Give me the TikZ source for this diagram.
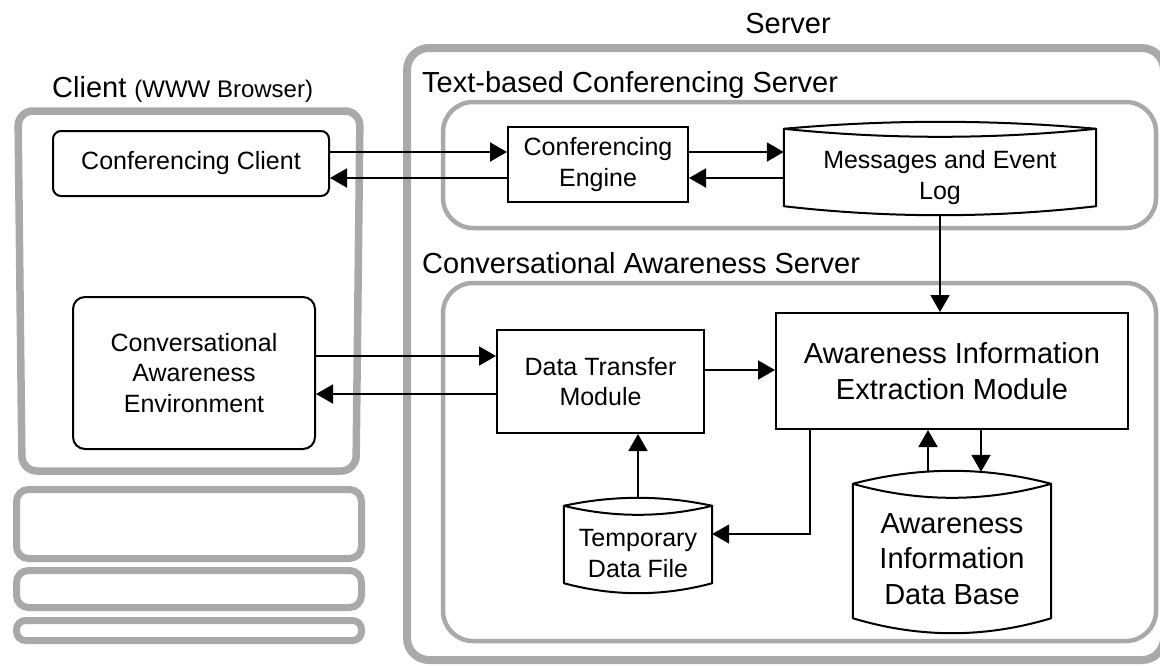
\documentclass[tikz,border=0pt]{standalone}
\usepackage{fontspec}
\setmainfont{Liberation Sans}
\usetikzlibrary{arrows.meta,calc}
\definecolor{framegray}{RGB}{169,169,169}

% draws a data-store outline around a (borderless) node:
% #1 node name, #2 top bulge, #3 lens depth, #4 bottom dip
\newcommand\datastore[4]{%
  \filldraw[fill=white,line width=2pt,line join=round]
    (#1.north west)
      .. controls ($(#1.north west)!1/3!(#1.north east)+(0,-1.333*#2)$)
              and ($(#1.north west)!2/3!(#1.north east)+(0,-1.333*#2)$) .. (#1.north east)
      -- (#1.south east)
      .. controls ($(#1.south west)!2/3!(#1.south east)+(0,1.333*#4)$)
              and ($(#1.south west)!1/3!(#1.south east)+(0,1.333*#4)$) .. (#1.south west)
      -- cycle;
  \draw[line width=2pt]
    (#1.north west)
      .. controls ($(#1.north west)!1/3!(#1.north east)+(0,1.333*#3)$)
              and ($(#1.north west)!2/3!(#1.north east)+(0,1.333*#3)$) .. (#1.north east);
}

\begin{document}
\begin{tikzpicture}[x=1pt,y=-1pt,
  midfont/.style={font=\fontsize{25}{30.5}\selectfont},
  bigfont/.style={font=\fontsize{29}{35.5}\selectfont},
  outerframe/.style={draw=framegray,line width=8pt,rounded corners=22pt},
  innerframe/.style={draw=framegray,line width=4.5pt,rounded corners=30pt},
  clientframe/.style={draw=framegray,line width=7.5pt,rounded corners=15pt},
  stackframe/.style={draw=framegray,line width=7pt,rounded corners=12pt},
  procbox/.style={draw,line width=2pt,inner sep=0pt,align=center,fill=white},
  storebox/.style={inner sep=0pt},
  storetext/.style={inner sep=0pt,align=center},
  arr/.style={line width=2pt,-{Triangle[length=17pt,width=19pt]}},
  grouplabel/.style={anchor=base west,bigfont,inner sep=0pt}]

\useasboundingbox (0,0) rectangle (1160,665);

% ---------- frames ----------
\draw[outerframe] (407,48) rectangle (1164,660);
\draw[innerframe] (443,102) rectangle (1156,228);
\draw[innerframe] (443,283) rectangle (1156,641);
\draw[clientframe] (18,111) -- (360,111) -- (356,471) -- (22,471) -- cycle;
\draw[stackframe] (16.5,489.5) rectangle (361.5,558.5);
\draw[stackframe] (16.5,570.5) rectangle (361.5,607.5);
\draw[stackframe,rounded corners=9pt] (16.5,620.5) rectangle (361.5,640.5);

% ---------- group labels ----------
\node[bigfont,anchor=base,inner sep=0pt] (serverlbl) at (788,33) {Server};
\node[grouplabel] (clientlbl) at (52,97) {Client {\fontsize{24}{29}\selectfont(WWW Browser)}};
\node[grouplabel] (tcslbl) at (422,92) {Text-based Conferencing Server};
\node[grouplabel] (caslbl) at (422,273) {Conversational Awareness Server};

% ---------- client side ----------
\node[procbox,midfont,rounded corners=8pt,minimum width=276pt,minimum height=65pt]
  (cc) at (191,163.5) {Conferencing Client};
\node[procbox,midfont,rounded corners=12pt,minimum width=242pt,minimum height=152pt]
  (cae) at (194,373) {Conversational\\Awareness\\Environment};

% ---------- server side ----------
\node[procbox,midfont,minimum width=180pt,minimum height=75pt]
  (eng) at (598,164.5) {Conferencing\\Engine};
\node[procbox,midfont,minimum width=207pt,minimum height=103pt]
  (dtm) at (600.5,381.5) {Data Transfer\\Module};
\node[procbox,bigfont,minimum width=352pt,minimum height=116pt]
  (aiem) at (952,371) {Awareness Information\\Extraction Module};

\node[storebox,minimum width=312pt,minimum height=77pt] (msg) at (940,167.5) {};
\datastore{msg}{7}{8}{9}
\node[storetext,midfont] (msgtext) at ($(msg.center)+(0,10)$) {Messages and Event\\Log};

\node[storebox,minimum width=148pt,minimum height=77pt] (temp) at (638,544.5) {};
\datastore{temp}{8}{9}{10}
\node[storetext,midfont] (temptext) at ($(temp.center)+(0,9)$) {Temporary\\Data File};

\node[storebox,minimum width=198pt,minimum height=134pt] (aidb) at (952,551) {};
\datastore{aidb}{13}{14}{15}
\node[storetext,bigfont] (aidbtext) at ($(aidb.center)+(0,8)$) {Awareness\\Information\\Data Base};

% ---------- connector rows and columns ----------
\coordinate (rowA) at (0,152);
\coordinate (rowB) at (0,178);
\coordinate (rowC) at (0,356);
\coordinate (rowD) at (0,394);
\coordinate (rowE) at (0,370);
\coordinate (bend) at (810,534);
\coordinate (colUp) at (928,0);
\coordinate (colDown) at (981,0);

% ---------- connectors ----------
\draw[arr] (cc.east |- rowA) -- (eng.west |- rowA);
\draw[arr] (eng.west |- rowB) -- (cc.east |- rowB);
\draw[arr] (eng.east |- rowA) -- (msg.west |- rowA);
\draw[arr] (msg.west |- rowB) -- (eng.east |- rowB);
\draw[arr] ($(msg.south)+(0,9)$) -- (aiem.north -| msg.south);
\draw[arr] (cae.east |- rowC) -- (dtm.west |- rowC);
\draw[arr] (dtm.west |- rowD) -- (cae.east |- rowD);
\draw[arr] (dtm.east |- rowE) -- (aiem.west |- rowE);
\draw[arr] ($(temp.north)+(0,-8)$) -- (dtm.south -| temp.north);
\draw[arr] (aiem.south -| bend) -- (bend) -- (temp.east |- bend);
\draw[arr] ($(aidb.north -| colUp)+(0,-12)$) -- (aiem.south -| colUp);
\draw[arr] (aiem.south -| colDown) -- ($(aidb.north -| colDown)+(0,-12)$);

\end{tikzpicture}
\end{document}
